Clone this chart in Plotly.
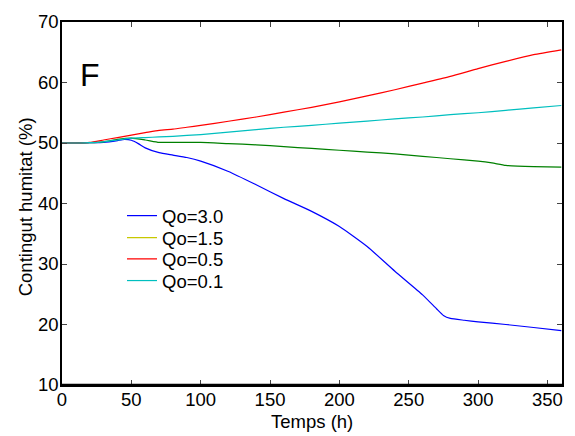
import plotly.graph_objects as go

t_blue = [0, 10, 20, 30, 40, 45, 50, 55, 60, 70, 80, 90, 100, 120, 140, 160, 180, 200, 220, 240, 260, 270, 275, 280, 290, 300, 320, 340, 360]
v_blue = [50, 50, 50.05, 50.1, 50.4, 50.6, 50.45, 49.9, 49.2, 48.4, 48.0, 47.6, 47.0, 45.3, 43.1, 40.8, 38.7, 36.2, 32.9, 28.8, 24.9, 22.6, 21.5, 21.0, 20.7, 20.45, 20.0, 19.5, 19.0]

t_green = [0, 10, 20, 30, 40, 50, 60, 70, 80, 100, 120, 140, 160, 180, 200, 220, 240, 260, 280, 300, 310, 320, 340, 360]
v_green = [50, 50, 50.05, 50.2, 50.6, 50.8, 50.5, 50.1, 50.1, 50.1, 49.9, 49.7, 49.4, 49.1, 48.8, 48.5, 48.2, 47.8, 47.4, 47.0, 46.7, 46.3, 46.1, 46.0]

t_red = [0, 10, 20, 30, 40, 50, 60, 70, 80, 90, 100, 120, 140, 160, 180, 200, 220, 240, 260, 280, 300, 320, 340, 360]
v_red = [50, 50, 50.1, 50.5, 50.9, 51.3, 51.7, 52.1, 52.3, 52.6, 52.9, 53.6, 54.3, 55.1, 55.9, 56.8, 57.8, 58.8, 59.9, 61.0, 62.3, 63.5, 64.6, 65.4]

t_cyan = [0, 10, 20, 30, 40, 50, 60, 70, 80, 100, 120, 140, 160, 180, 200, 220, 240, 260, 280, 300, 320, 340, 360]
v_cyan = [50, 50, 50.05, 50.2, 50.5, 50.8, 50.9, 51.0, 51.1, 51.4, 51.8, 52.2, 52.6, 52.9, 53.3, 53.6, 54.0, 54.3, 54.7, 55.0, 55.4, 55.8, 56.2]

legend_labels = ["Qo=3.0", "Qo=1.5", "Qo=0.5", "Qo=0.1"]
x_ticks = [0, 50, 100, 150, 200, 250, 300, 350]
y_ticks = [10, 20, 30, 40, 50, 60, 70]

FONT = "Liberation Sans, Arial, sans-serif"
FS = 18.5
LW = 1.2
SMOOTH = dict(shape="spline", smoothing=0.5)

fig = go.Figure()
fig.add_trace(go.Scatter(x=t_blue, y=v_blue, mode="lines", name=legend_labels[0],
                         legend="legend", line=dict(color="#0000ff", width=LW, **SMOOTH)))
# green curve plotted; its legend entry is drawn in yellow as in the reference
fig.add_trace(go.Scatter(x=t_green, y=v_green, mode="lines", showlegend=False,
                         line=dict(color="#008000", width=LW, **SMOOTH)))
fig.add_trace(go.Scatter(x=[None], y=[None], mode="lines", name=legend_labels[1],
                         legend="legend2", line=dict(color="#c8c800", width=LW)))
fig.add_trace(go.Scatter(x=t_red, y=v_red, mode="lines", name=legend_labels[2],
                         legend="legend3", line=dict(color="#ff0000", width=LW, **SMOOTH)))
fig.add_trace(go.Scatter(x=t_cyan, y=v_cyan, mode="lines", name=legend_labels[3],
                         legend="legend4", line=dict(color="#00bfbf", width=LW, **SMOOTH)))

fig.add_annotation(text="F", x=0.056, y=0.854, xref="paper", yref="paper",
                   xanchor="center", yanchor="middle",
                   showarrow=False, font=dict(size=32, color="black", family=FONT))
fig.add_annotation(text="Temps (h)", x=0.5, y=-0.1, xref="paper", yref="paper",
                   xanchor="center", yanchor="middle",
                   showarrow=False, font=dict(size=FS, color="black", family=FONT))
fig.add_annotation(text="Contingut humitat (%)", x=-0.0737, y=0.49, xref="paper", yref="paper",
                   xanchor="center", yanchor="middle", textangle=-90,
                   showarrow=False, font=dict(size=FS, color="black", family=FONT))

# thicker bottom axis line as in the reference
fig.add_shape(type="line", xref="paper", yref="paper", x0=0, x1=1, y0=0, y1=0,
              line=dict(color="black", width=2.5))

def leg(ypaper):
    return dict(x=0.12, y=ypaper, xanchor="left", yanchor="middle",
                bgcolor="rgba(0,0,0,0)", borderwidth=0,
                font=dict(size=FS, family=FONT, color="black"), itemwidth=30)

fig.update_layout(
    width=575, height=436,
    margin=dict(l=62, r=11, t=16, b=51),
    paper_bgcolor="white", plot_bgcolor="white",
    font=dict(family=FONT, size=FS, color="black"),
    showlegend=True,
    legend=leg(0.4653),
    legend2=leg(0.4046),
    legend3=leg(0.3461),
    legend4=leg(0.2864),
    xaxis=dict(range=[0, 360.5], tickvals=x_ticks, ticks="inside", ticklen=5,
               showline=True, linecolor="black", linewidth=1.5, mirror="ticks",
               showgrid=False, zeroline=False, tickfont=dict(size=FS),
               ticklabelstandoff=-3),
    yaxis=dict(range=[10, 70], tickvals=y_ticks, ticks="inside", ticklen=5,
               showline=True, linecolor="black", linewidth=1.5, mirror="ticks",
               showgrid=False, zeroline=False, tickfont=dict(size=FS),
               ticklabelstandoff=-2),
)

fig.write_html("out.html")
